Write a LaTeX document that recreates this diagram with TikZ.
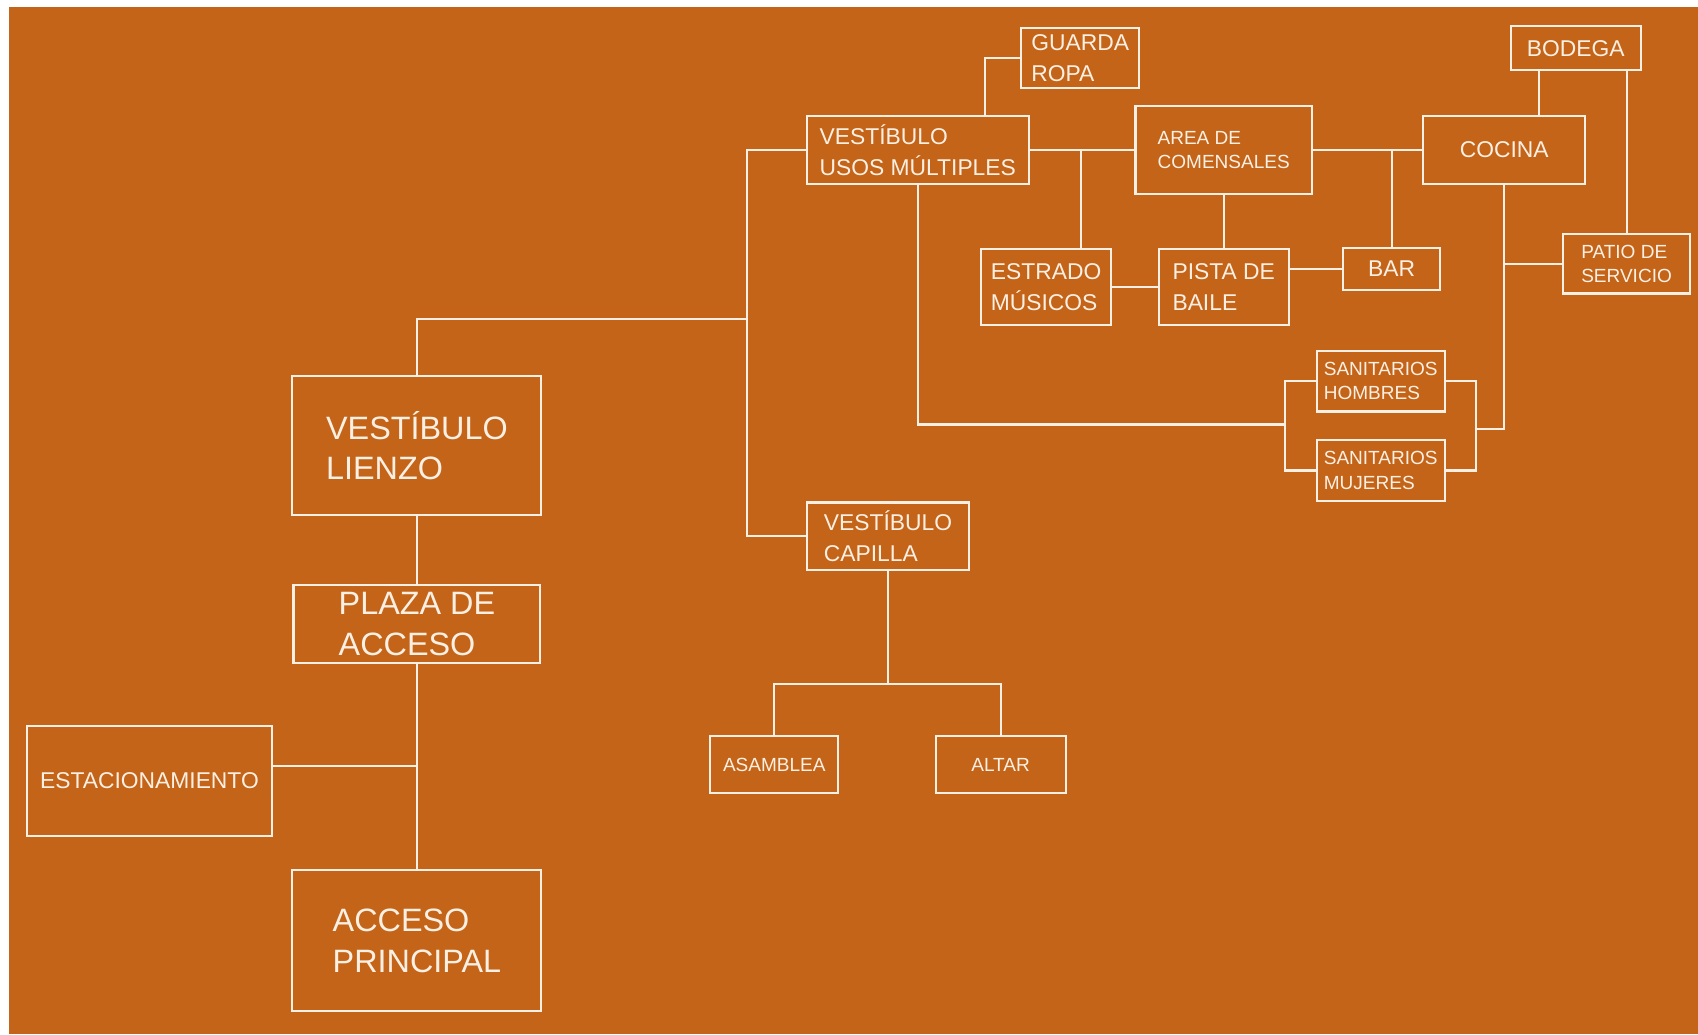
\documentclass[tikz,border=0pt]{standalone}
\usepackage{fontspec}
\setmainfont{Liberation Sans}
\usepackage{xcolor}
\definecolor{burntorange}{RGB}{196,100,24}
\definecolor{cream}{RGB}{252,240,228}
\RequirePackage{tikz}
\usetikzlibrary{positioning,calc}

\begin{document}
\begin{tikzpicture}[x=0.02cm, y=-0.02cm,
		room/.style={draw=cream, line width=1.1pt, text=cream, inner sep=0pt, align=left},
		bigtxt/.style={font=\fontsize{17}{21.5}\selectfont},
		midtxt/.style={font=\fontsize{12}{16.5}\selectfont},
		smalltxt/.style={font=\fontsize{10}{12.7}\selectfont},
		link/.style={draw=cream, line width=1.1pt}]
					\useasboundingbox (0,0) rectangle (1568,955);
					\fill[white] (0,0) rectangle (1568,955);
					\fill[burntorange] (8,6.5) rectangle (1568,955);
					% acceso
					\node[room, bigtxt, minimum width=4.6cm, minimum height=2.58cm] (lienzo) at (385,411.5) {VESTÍBULO\\LIENZO};
					\node[room, bigtxt, minimum width=4.56cm, minimum height=1.44cm] (plaza) at (385,576) {PLAZA DE\\ACCESO};
					\node[room, bigtxt, minimum width=4.6cm, minimum height=2.62cm] (acceso) at (385,868.5) {ACCESO\\PRINCIPAL};
					\node[room, midtxt, minimum width=4.52cm, minimum height=2.04cm] (estac) at (138,721) {ESTACIONAMIENTO};
					% capilla
					\node[room, midtxt, minimum width=3cm, minimum height=1.24cm] (capilla) at (820,495) {VESTÍBULO\\CAPILLA};
					\node[room, smalltxt, minimum width=2.36cm, minimum height=1.04cm] (asamblea) at (715,706) {ASAMBLEA};
					\node[room, smalltxt, minimum width=2.4cm, minimum height=1.04cm] (altar) at (924,706) {ALTAR};
					% usos multiples
					\node[room, midtxt, minimum width=4.1cm, minimum height=1.26cm] (usos) at (847.5,138.5) {VESTÍBULO\\USOS MÚLTIPLES};
					\node[room, midtxt, minimum width=2.18cm, minimum height=1.1cm] (guarda) at (997.5,53.5) {GUARDA\\ROPA};
					\node[room, smalltxt, minimum width=3.26cm, minimum height=1.62cm] (comensales) at (1130,138.5) {AREA DE\\COMENSALES};
					\node[room, midtxt, minimum width=3cm, minimum height=1.26cm] (cocina) at (1389,138.5) {COCINA};
					\node[room, midtxt, minimum width=2.4cm, minimum height=0.82cm] (bodega) at (1455,44.5) {BODEGA};
					\node[room, midtxt, minimum width=2.4cm, minimum height=1.4cm] (estrado) at (966,265) {ESTRADO\\MÚSICOS};
					\node[room, midtxt, minimum width=2.4cm, minimum height=1.4cm] (pista) at (1130,265) {PISTA DE\\BAILE};
					\node[room, midtxt, minimum width=1.8cm, minimum height=0.78cm] (bar) at (1285,248.5) {BAR};
					\node[room, smalltxt, minimum width=2.36cm, minimum height=1.1cm] (patio) at (1502,243.5) {PATIO DE\\SERVICIO};
					\node[room, smalltxt, minimum width=2.36cm, minimum height=1.12cm] (hombres) at (1275,352) {SANITARIOS\\HOMBRES};
					\node[room, smalltxt, minimum width=2.36cm, minimum height=1.14cm] (mujeres) at (1275,434.5) {SANITARIOS\\MUJERES};
					% junctions
					\coordinate (spine) at (690,295);
					\coordinate (jestac) at (385,707);
					\coordinate (jcapilla) at (820,632);
					\coordinate (jcocina) at (1363,396);
					\coordinate (jusos) at (1187,392);
					% connectors
					\draw[link] (usos.west) -| (spine) |- (capilla.west);
					\draw[link] (spine) -| (lienzo.north);
					\draw[link] (lienzo.south) -- (plaza.north);
					\draw[link] (plaza.south) -- (acceso.north);
					\draw[link] (jestac) -- (jestac -| estac.east);
					\draw[link] (capilla.south) -- (jcapilla);
					\draw[link] (asamblea.north) |- (jcapilla) -| (altar.north);
					\draw[link] (guarda.west) -| ([xshift=1.25cm]usos.north);
					\draw[link] (usos.east) -- (comensales.west);
					\draw[link] ([xshift=0.64cm]estrado.north) -- ([xshift=0.64cm]estrado.north |- usos.east);
					\draw[link] (estrado.east) -- (pista.west);
					\draw[link] (comensales.south) -- (pista.north);
					\draw[link] (bar.west) -- (bar.west -| pista.east);
					\draw[link] (comensales.east) -- (cocina.west);
					\draw[link] (bar.north) -- (bar.north |- cocina.west);
					\draw[link] ([xshift=0.64cm]cocina.north) -- ([xshift=0.64cm]cocina.north |- bodega.south);
					\draw[link] (patio.north) -- (patio.north |- bodega.south);
					\draw[link] (patio.west) -- (patio.west -| cocina.south);
					\draw[link] (cocina.south) |- (jcocina);
					\draw[link] (hombres.east) -| (jcocina);
					\draw[link] (mujeres.east) -| (jcocina);
					\draw[link] (usos.south) |- (jusos);
					\draw[link] (hombres.west) -| (jusos);
					\draw[link] (mujeres.west) -| (jusos);
			\end{tikzpicture}
\end{document}
